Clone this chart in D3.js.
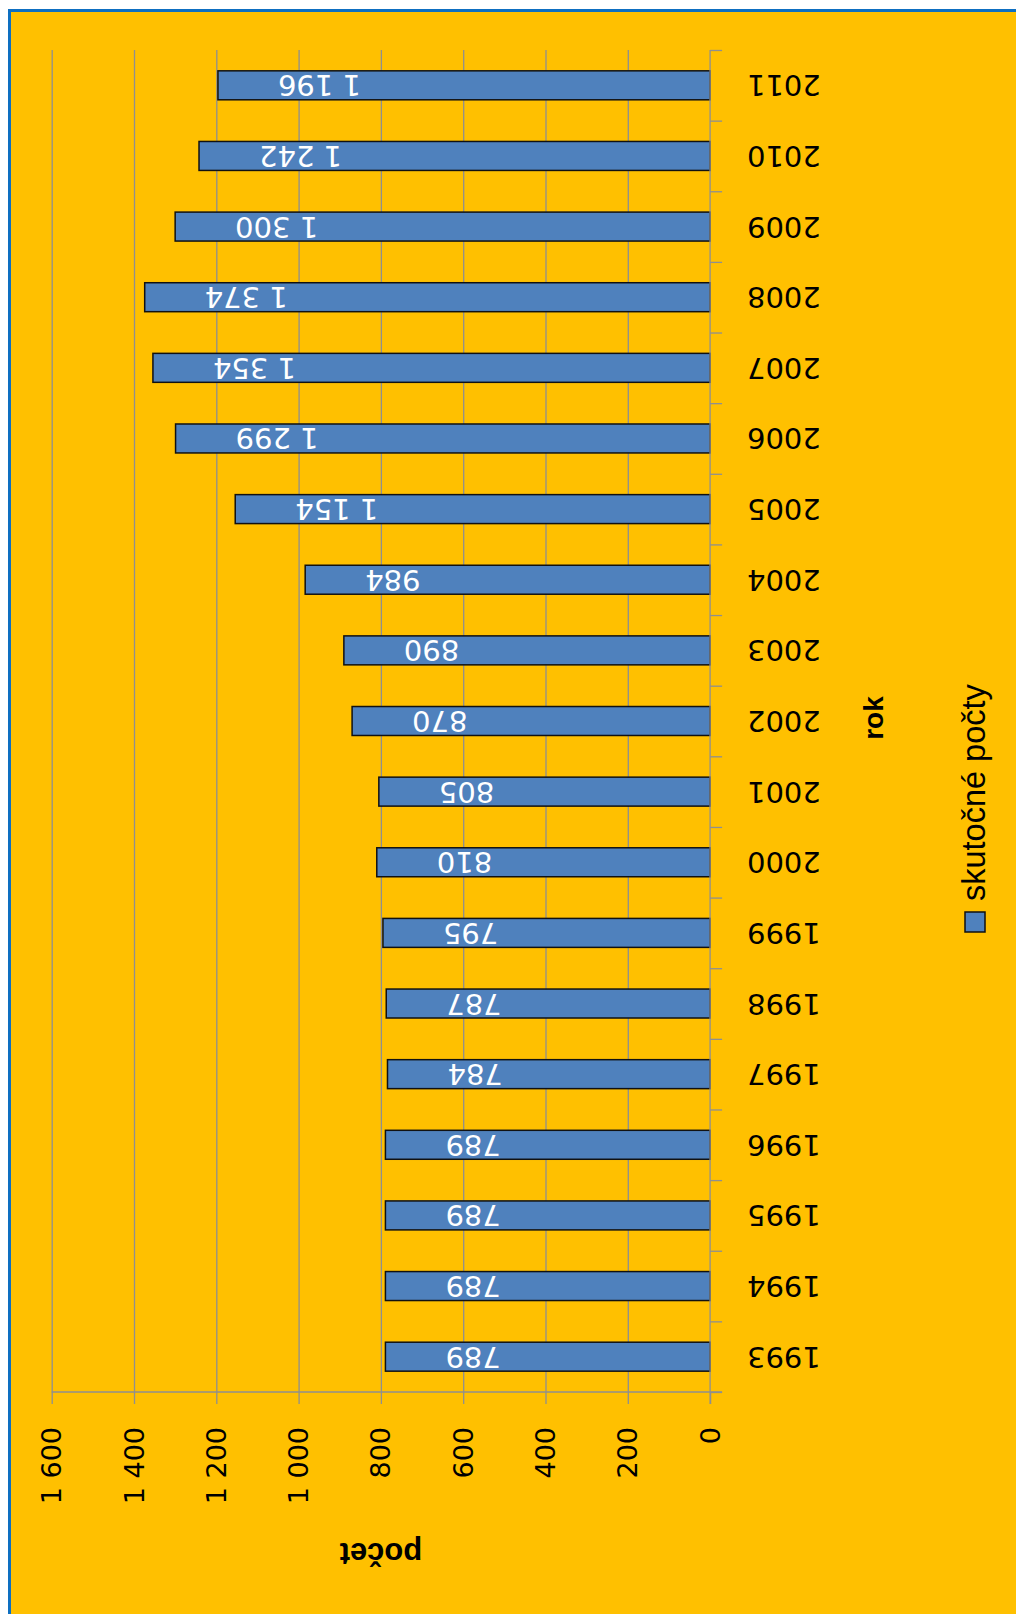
<!DOCTYPE html>
<html>
<head>
<meta charset="utf-8">
<script src="https://cdnjs.cloudflare.com/ajax/libs/d3/7.8.5/d3.min.js"></script>
<style>
  body { margin: 0; background: #fff; }
  svg { display: block; }
</style>
</head>
<body>
<script>
// data
var roky = [1993, 1994, 1995, 1996, 1997, 1998, 1999, 2000, 2001, 2002,
            2003, 2004, 2005, 2006, 2007, 2008, 2009, 2010, 2011];
var pocty = [789, 789, 789, 789, 784, 787, 795, 810, 805, 870,
             890, 984, 1154, 1299, 1354, 1374, 1300, 1242, 1196];
var tickyPocet = [0, 200, 400, 600, 800, 1000, 1200, 1400, 1600];
var nazovX = "rok";
var nazovY = "počet";
var legenda = "skutočné počty";

// chart is drawn turned on its side (original column chart rotated)
var sirka = 1016, vyska = 1614;
var plocha = {left: 51.7, right: 710.1, top: 50, bottom: 1392};

var sk = d3.formatLocale({decimal: ",", thousands: " ", grouping: [3], currency: ["", ""]});
var fmt = sk.format(",");

var svg = d3.select("body").append("svg")
    .attr("width", sirka)
    .attr("height", vyska);

// background + frame
svg.append("rect")
    .attr("x", 9.5).attr("y", 10.5)
    .attr("width", sirka + 50).attr("height", vyska + 50)
    .style("fill", "#FFC000")
    .style("stroke", "#0E6FC1")
    .style("stroke-width", 3);

var x = d3.scaleLinear().domain([0, 1600]).range([plocha.right, plocha.left]);
var y = d3.scaleBand().domain(roky).range([plocha.bottom, plocha.top])
    .paddingInner(0.59).paddingOuter(0.295);
var hranice = d3.scaleLinear().domain([0, roky.length]).range([plocha.bottom, plocha.top]);

// gridlines
svg.append("g")
    .attr("transform", "translate(0," + plocha.top + ")")
    .call(d3.axisBottom(x).tickValues(tickyPocet.slice(1)).tickSize(plocha.bottom - plocha.top).tickFormat(""))
    .call(function(g) { g.select(".domain").remove(); })
    .selectAll("line").style("stroke", "#8F8F8F").style("stroke-width", 1.3);

// bars
svg.append("g").selectAll("rect")
    .data(roky)
    .join("rect")
    .attr("x", function(d, i) { return x(pocty[i]); })
    .attr("y", function(d) { return y(d); })
    .attr("width", function(d, i) { return x(0) - x(pocty[i]); })
    .attr("height", y.bandwidth())
    .style("fill", "#4F81BD")
    .style("stroke", "#111")
    .style("stroke-width", 1.5);

// value labels (upside down)
svg.append("g").selectAll("text")
    .data(roky)
    .join("text")
    .attr("transform", function(d, i) {
        return "translate(" + (x(pocty[i]) + 60) + "," + (y(d) + y.bandwidth() / 2) + ") rotate(180)";
    })
    .attr("text-anchor", "end")
    .attr("dominant-baseline", "central")
    .style("font-family", "DejaVu Sans")
    .style("font-size", "29px")
    .style("fill", "#fff")
    .text(function(d, i) { return fmt(pocty[i]); });

// value axis (bottom)
var osY = svg.append("g")
    .attr("transform", "translate(0," + plocha.bottom + ")")
    .call(d3.axisBottom(x).tickValues(tickyPocet).tickSize(12).tickFormat(""));
osY.select(".domain").remove();
osY.selectAll("line").style("stroke", "#8F8F8F").style("stroke-width", 1.3);
svg.append("line")
    .attr("x1", x(1600)).attr("x2", x(0) + 12)
    .attr("y1", plocha.bottom).attr("y2", plocha.bottom)
    .style("stroke", "#8F8F8F").style("stroke-width", 1.3);

svg.append("g").selectAll("text")
    .data(tickyPocet)
    .join("text")
    .attr("transform", function(d) { return "translate(" + x(d) + ",1427) rotate(-90)"; })
    .attr("text-anchor", "end")
    .attr("dominant-baseline", "central")
    .style("font-family", "DejaVu Sans")
    .style("font-size", "27px")
    .style("fill", "#000")
    .text(function(d) { return fmt(d); });

// category axis (right)
var osX = svg.append("g")
    .attr("transform", "translate(" + plocha.right + ",0)")
    .call(d3.axisRight(hranice).tickValues(d3.range(roky.length + 1)).tickSize(12).tickFormat(""));
osX.select(".domain").remove();
osX.selectAll("line").style("stroke", "#8F8F8F").style("stroke-width", 1.3);
svg.append("line")
    .attr("x1", plocha.right).attr("x2", plocha.right)
    .attr("y1", plocha.top).attr("y2", plocha.bottom + 12)
    .style("stroke", "#8F8F8F").style("stroke-width", 1.3);

svg.append("g").selectAll("text")
    .data(roky)
    .join("text")
    .attr("transform", function(d) {
        return "translate(747," + (y(d) + y.bandwidth() / 2) + ") rotate(180)";
    })
    .attr("text-anchor", "end")
    .attr("dominant-baseline", "central")
    .style("font-family", "DejaVu Sans")
    .style("font-size", "29px")
    .style("fill", "#000")
    .text(function(d) { return d; });

// axis titles
svg.append("text")
    .attr("transform", "translate(883,718) rotate(-90)")
    .attr("text-anchor", "middle")
    .style("font-family", "Liberation Sans")
    .style("font-weight", "bold")
    .style("font-size", "28px")
    .text(nazovX);

svg.append("text")
    .attr("transform", "translate(" + ((plocha.left + plocha.right) / 2) + ",1543) rotate(180)")
    .attr("text-anchor", "middle")
    .style("font-family", "Liberation Sans")
    .style("font-weight", "bold")
    .style("font-size", "31px")
    .text(nazovY);

// legend
svg.append("rect")
    .attr("x", 965).attr("y", 912)
    .attr("width", 20).attr("height", 20)
    .style("fill", "#4F81BD")
    .style("stroke", "#111")
    .style("stroke-width", 1.5);

svg.append("text")
    .attr("transform", "translate(985,901) rotate(-90)")
    .attr("text-anchor", "start")
    .style("font-family", "Liberation Sans")
    .style("font-size", "32.5px")
    .text(legenda);
</script>
</body>
</html>
